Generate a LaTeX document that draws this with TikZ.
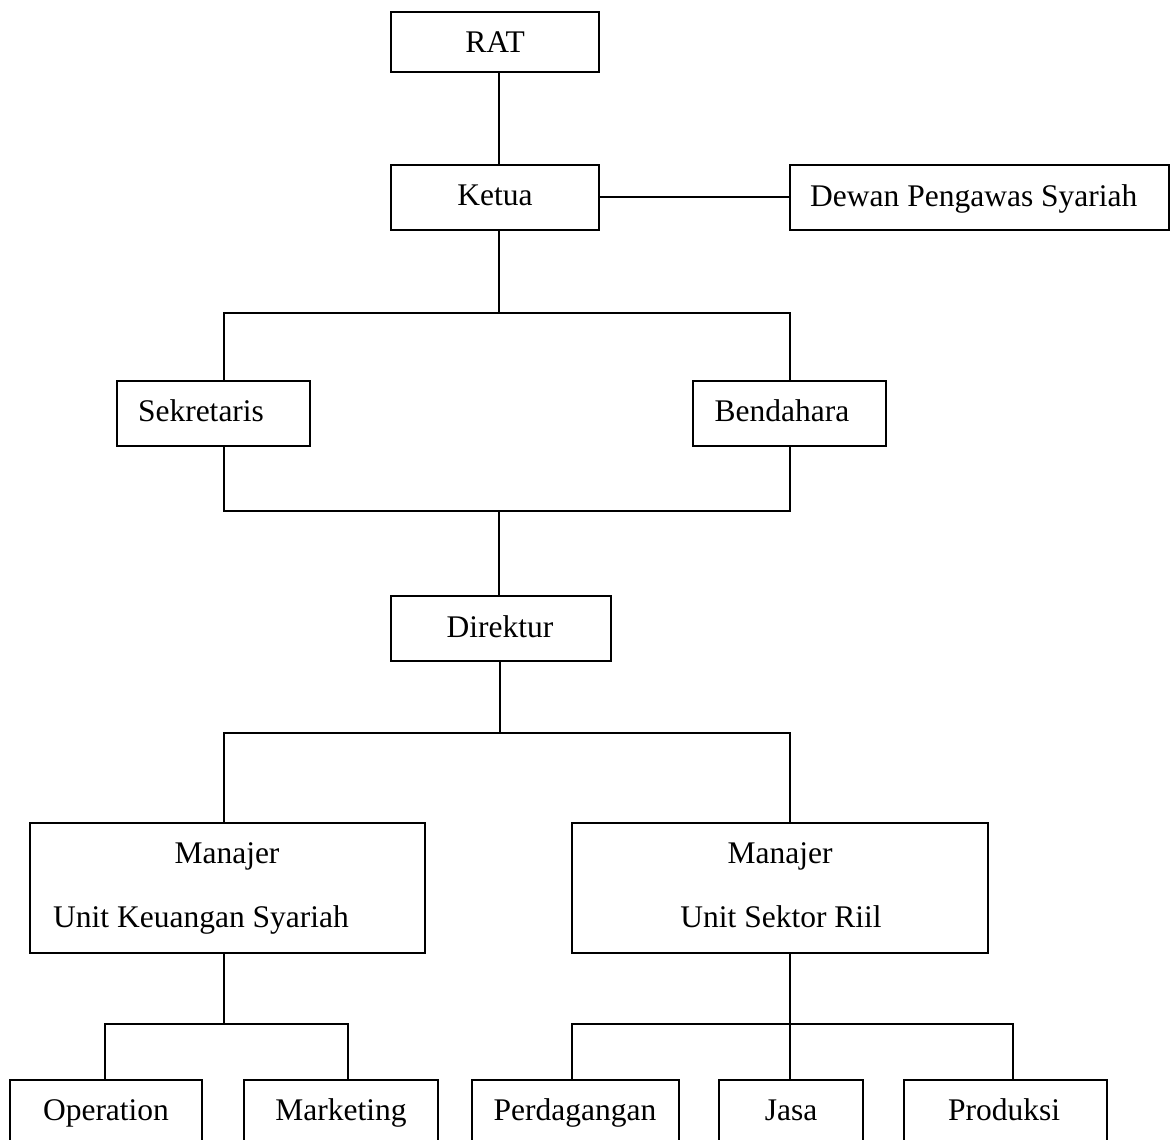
\documentclass[tikz,border=0pt]{standalone}
\usepackage{fontspec}
\setmainfont{Liberation Serif}
\begin{document}
\begin{tikzpicture}[x=1pt,y=-1pt,
  orgbox/.style={draw=black, line width=1.6pt, inner sep=0pt, fill=white},
  txt/.style={inner sep=0pt, font=\fontsize{31.5}{36}\selectfont, text height=20.8pt, text depth=0pt},
  conn/.style={draw=black, line width=1.6pt, line join=miter}]
\useasboundingbox (0,0) rectangle (1170,1140);
\begin{scope}
\clip (0,0) rectangle (1170,1140);
% boxes
\node[orgbox, minimum width=208pt, minimum height=60pt] (rat) at (495,42) {};
\node[orgbox, minimum width=208pt, minimum height=65pt] (ketua) at (495,197.5) {};
\node[orgbox, minimum width=379pt, minimum height=65pt] (dewan) at (979.5,197.5) {};
\node[orgbox, minimum width=193pt, minimum height=65pt] (sek) at (213.5,413.5) {};
\node[orgbox, minimum width=193pt, minimum height=65pt] (bend) at (789.5,413.5) {};
\node[orgbox, minimum width=220pt, minimum height=65pt] (dir) at (501,628.5) {};
\node[orgbox, minimum width=395pt, minimum height=130pt] (uks) at (227.5,888) {};
\node[orgbox, minimum width=416pt, minimum height=130pt] (usr) at (780,888) {};
\node[orgbox, minimum width=192pt, minimum height=100pt] (op) at (106,1130) {};
\node[orgbox, minimum width=194pt, minimum height=100pt] (mk) at (341,1130) {};
\node[orgbox, minimum width=207pt, minimum height=100pt] (pd) at (575.5,1130) {};
\node[orgbox, minimum width=144pt, minimum height=100pt] (jasa) at (791,1130) {};
\node[orgbox, minimum width=203pt, minimum height=100pt] (prod) at (1005.5,1130) {};
\end{scope}
% texts
\node[txt] (tRat) at (495,42) {RAT};
\node[txt] (tKetua) at (495,195) {Ketua};
\node[txt, anchor=west] (tDewan) at (810,196) {Dewan Pengawas Syariah};
\node[txt] (tSek) at (201,411) {Sekretaris};
\node[txt] (tBend) at (782,411) {Bendahara};
\node[txt] (tDir) at (500,627) {Direktur};
\node[txt] (tUks1) at (227,853) {Manajer};
\node[txt] (tUks2) at (201,917) {Unit Keuangan Syariah};
\node[txt] (tUsr1) at (780,853) {Manajer};
\node[txt] (tUsr2) at (781,917) {Unit Sektor Riil};
\node[txt] (tOp) at (106,1110) {Operation};
\node[txt] (tMk) at (341,1110) {Marketing};
\node[txt] (tPd) at (575,1110) {Perdagangan};
\node[txt] (tJasa) at (791,1110) {Jasa};
\node[txt] (tProd) at (1004,1110) {Produksi};
% junction coordinates
\coordinate (b1) at (499,313);
\coordinate (b2) at (499,511);
\coordinate (b3) at (500,733);
\coordinate (b4) at (224,1024);
\coordinate (b5) at (790,1024);
\coordinate (sx) at (224,0);
\coordinate (bx) at (790,0);
\coordinate (ox) at (105,0);
\coordinate (mx) at (348,0);
\coordinate (px) at (572,0);
\coordinate (rx) at (1013,0);
\coordinate (ly) at (0,197);
% connectors
\draw[conn] (rat.south -| b1) -- (ketua.north -| b1);
\draw[conn] (ketua.east |- ly) -- (dewan.west |- ly);
\draw[conn] (ketua.south -| b1) -- (b1);
\draw[conn] (sek.north -| sx) -- (sx |- b1) -- (bx |- b1) -- (bend.north -| bx);
\draw[conn] (sek.south -| sx) -- (sx |- b2) -- (bx |- b2) -- (bend.south -| bx);
\draw[conn] (b2) -- (dir.north -| b2);
\draw[conn] (dir.south -| b3) -- (b3);
\draw[conn] (uks.north -| sx) -- (sx |- b3) -- (bx |- b3) -- (usr.north -| bx);
\draw[conn] (uks.south -| b4) -- (b4);
\draw[conn] (op.north -| ox) -- (ox |- b4) -- (mx |- b4) -- (mk.north -| mx);
\draw[conn] (usr.south -| b5) -- (jasa.north -| b5);
\draw[conn] (pd.north -| px) -- (px |- b5) -- (rx |- b5) -- (prod.north -| rx);
\end{tikzpicture}
\end{document}
